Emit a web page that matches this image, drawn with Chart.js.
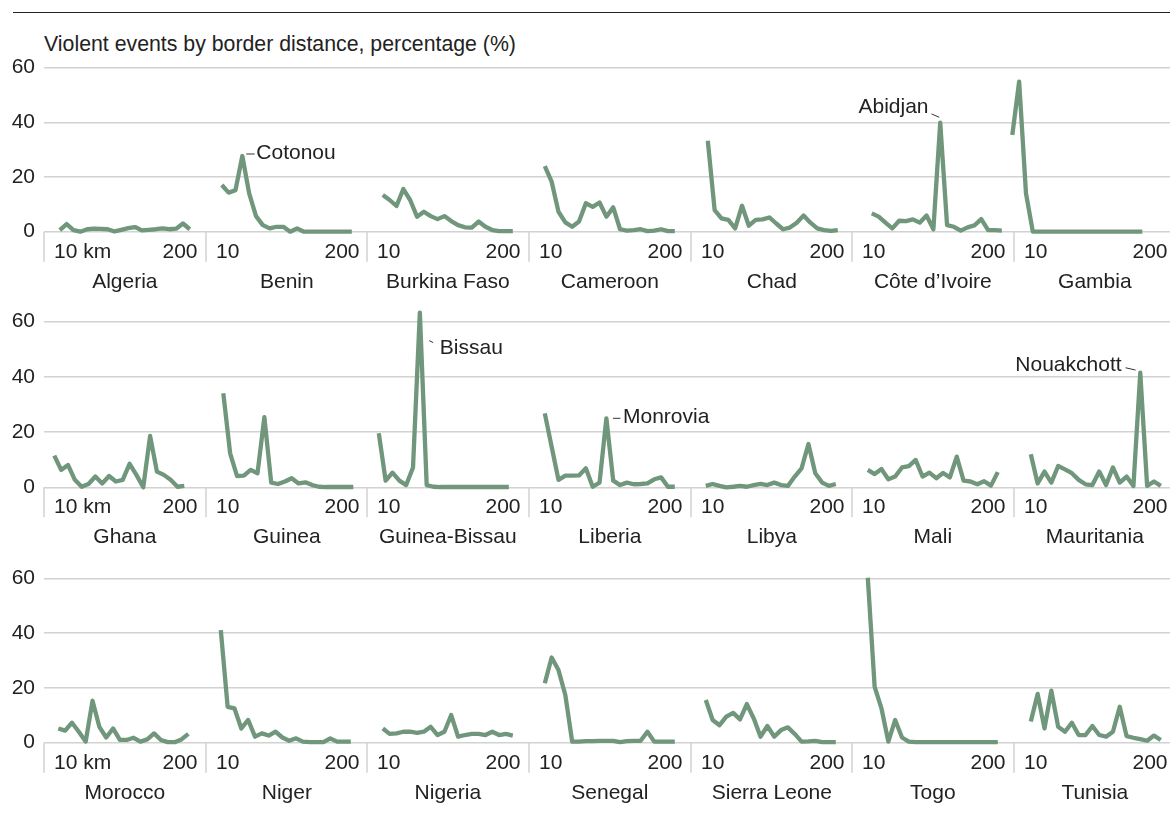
<!DOCTYPE html>
<html>
<head>
<meta charset="utf-8">
<script src="https://cdn.jsdelivr.net/npm/chart.js@4.4.1/dist/chart.umd.min.js"></script>
<style>
html,body{margin:0;padding:0;background:#fff;}
body{width:1170px;height:821px;position:relative;overflow:hidden;font-family:"Liberation Sans",Arial,Helvetica,sans-serif;color:#222;}
#rule{position:absolute;left:13px;top:12px;width:1157px;height:1px;background:#222;}
#title{position:absolute;left:44px;top:34px;font-size:21.3px;line-height:21px;white-space:nowrap;}
canvas{position:absolute;}
</style>
</head>
<body>
<div id="rule"></div>
<div id="title">Violent events by border distance, percentage (%)</div>
<script>
// ---------- DATA ----------
const countries = ["Algeria","Benin","Burkina Faso","Cameroon","Chad","Côte d’Ivoire","Gambia",
  "Ghana","Guinea","Guinea-Bissau","Liberia","Libya","Mali","Mauritania",
  "Morocco","Niger","Nigeria","Senegal","Sierra Leone","Togo","Tunisia"];
const distanceKm = [10,20,30,40,50,60,70,80,90,100,110,120,130,140,150,160,170,180,190,200];

const algeria      = [0.6,2.8,0.6,0.0,0.9,1.1,1.0,0.9,0.1,0.7,1.3,1.7,0.5,0.7,0.9,1.2,0.9,1.1,3.0,0.9];
const benin        = [17.1,14.3,15.2,27.7,14.0,5.7,2.4,1.2,1.8,1.8,0.0,1.2,0.0,0.0,0.0,0.0,0.0,0.0,0.0,0.0];
const burkinaFaso  = [13.4,11.6,9.4,15.6,11.6,5.5,7.3,5.7,4.6,5.7,3.9,2.4,1.6,1.5,3.7,1.8,0.6,0.2,0.2,0.2];
const cameroon     = [24.0,18.3,7.3,3.4,1.8,3.7,10.4,9.1,10.7,5.5,8.9,0.9,0.4,0.6,0.9,0.2,0.4,0.9,0.2,0.2];
const chad         = [33.3,7.9,4.9,4.3,1.2,9.5,2.2,4.3,4.5,5.2,3.0,0.9,1.5,3.3,5.9,3.3,1.2,0.6,0.3,0.6];
const coteDIvoire  = [6.7,5.5,3.3,1.2,4.0,3.9,4.5,3.3,5.9,0.9,39.9,2.4,1.8,0.4,1.6,2.3,4.6,0.6,0.6,0.4];
const gambia       = [35.4,54.9,14.0,0.0,0.0,0.0,0.0,0.0,0.0,0.0,0.0,0.0,0.0,0.0,0.0,0.0,0.0,0.0,0.0,0.0];
const ghana        = [11.5,6.3,8.1,2.7,0.2,1.2,3.9,1.4,4.1,2.1,2.7,8.5,4.5,0.0,18.6,5.7,4.5,2.7,0.2,0.5];
const guinea       = [34.1,12.3,4.1,4.2,6.3,5.1,25.4,1.7,1.2,2.1,3.3,1.4,1.8,0.8,0.2,0.1,0.1,0.1,0.1,0.1];
const guineaBissau = [19.6,2.4,5.3,2.4,0.8,7.2,63.3,0.8,0.2,0.1,0.1,0.1,0.1,0.1,0.1,0.1,0.1,0.1,0.1,0.1];
const liberia      = [26.8,14.7,2.7,4.2,4.2,4.3,6.9,0.2,1.7,25.0,2.4,0.8,1.7,1.1,1.2,1.4,2.9,3.6,0.2,0.2];
const libya        = [0.5,1.2,0.5,0.0,0.2,0.5,0.2,0.8,1.2,0.8,1.7,0.8,0.5,3.9,6.9,15.7,5.1,1.7,0.5,1.2];
const mali         = [6.3,4.8,6.6,2.9,3.9,7.2,7.7,9.9,3.9,5.3,3.3,5.2,3.6,11.1,2.4,2.1,1.1,2.2,0.6,5.5];
const mauritania   = [12.0,1.4,5.7,1.7,7.7,6.5,5.1,2.7,1.1,0.8,5.7,0.8,7.2,1.7,3.9,0.5,41.5,0.5,2.1,0.5];
const morocco      = [5.2,4.4,7.3,4.0,0.4,15.3,5.8,1.9,5.2,1.0,1.0,1.8,0.4,1.2,3.4,1.0,0.2,0.2,1.2,3.2];
const niger        = [41.1,13.1,12.5,5.2,8.3,2.2,3.4,2.6,4.0,1.9,0.7,1.6,0.4,0.2,0.2,0.2,1.6,0.4,0.4,0.4];
const nigeria      = [5.2,3.2,3.4,4.0,4.0,3.6,4.0,5.8,2.8,4.0,10.1,2.2,2.8,3.2,3.2,2.8,4.0,2.8,3.2,2.6];
const senegal      = [21.7,31.1,26.5,17.4,0.4,0.4,0.6,0.6,0.7,0.7,0.7,0.2,0.6,0.7,0.7,4.0,0.4,0.4,0.4,0.4];
const sierraLeone  = [15.6,8.3,6.4,9.5,10.9,8.5,14.1,8.9,2.2,6.1,2.2,4.6,5.6,3.2,0.4,0.5,0.7,0.2,0.2,0.2];
const togo         = [60.2,20.4,12.5,0.4,8.3,1.9,0.4,0.2,0.2,0.2,0.2,0.2,0.2,0.2,0.2,0.2,0.2,0.2,0.2,0.2];
const tunisia      = [7.7,17.8,5.2,19.0,5.8,4.0,7.3,2.8,2.8,6.1,2.8,2.2,4.0,13.1,2.4,1.8,1.3,0.7,2.6,1.0];

const series = [algeria,benin,burkinaFaso,cameroon,chad,coteDIvoire,gambia,
  ghana,guinea,guineaBissau,liberia,libya,mali,mauritania,
  morocco,niger,nigeria,senegal,sierraLeone,togo,tunisia];

const yTickValues = [0,20,40,60];
const xTickLabelsFirstColumn = ["10 km","200"];
const xTickLabels = ["10","200"];
const cityCountries = ["Benin","Côte d’Ivoire","Guinea-Bissau","Liberia","Mauritania"];
const cityNames = ["Cotonou","Abidjan","Bissau","Monrovia","Nouakchott"];
const cityDistanceKm = [40,110,70,100,170];

// ---------- STYLE / LAYOUT ----------
const FONT = '"Liberation Sans", Arial, Helvetica, sans-serif';
const TEXT = '#222222';
const GRID = '#d2d2d2';
const LINE = 'rgb(112,150,123)';
const COLS = 7;
const PANEL_W = 161.67;
const panelLefts = [44,206,367,529,691,852,1014];
const RIGHT_EDGE = 1170;
const rowPlotTop = [67.7, 321.7, 578.3];
const rowPlotBottom = [231.7, 487.3, 742.7];
const FIRST_PT = 15.8, LAST_PT = 145.8; // px from panel left (base)
const panelShiftPx = {"Chad":1,"Côte d’Ivoire":4,"Gambia":-17.5,"Ghana":-5.5,"Guinea":1.5,
  "Guinea-Bissau":-4,"Libya":-1,"Mauritania":1,"Morocco":-1.5,"Niger":-1,"Sierra Leone":-1,"Tunisia":1};
const cityStyle = {
  "Cotonou":   {align:'left',  tx:14,    ty:3.5,  leader:[4,-2,12.3,-2]},
  "Abidjan":   {align:'right', tx:-11.7, ty:-10,  leader:[-8.7,-8.7,-1,-5.4]},
  "Bissau":    {align:'left',  tx:20,    ty:41.3, leader:[9.3,28,13.3,30]},
  "Monrovia":  {align:'left',  tx:16.6,  ty:4.5,  leader:[6.6,0,14,0]},
  "Nouakchott":{align:'right', tx:-18.7, ty:-1.7, leader:[-14.7,-5,-4.7,-2.7]}
};

Chart.defaults.font.family = FONT;

const panelDeco = {
  id: 'panelDeco',
  afterDraw(chart, args, o) {
    const ctx = chart.ctx;
    const y0 = chart.scales.y.getPixelForValue(0);
    const L = o.panelLeft;
    ctx.save();
    ctx.strokeStyle = GRID; ctx.lineWidth = 1.5;
    ctx.beginPath(); ctx.moveTo(L, y0); ctx.lineTo(L, y0 + 30); ctx.stroke();
    ctx.fillStyle = TEXT;
    ctx.font = '21px ' + FONT;
    ctx.textBaseline = 'alphabetic';
    ctx.textAlign = 'left';  ctx.fillText(o.ticks[0], L + 10, y0 + 26);
    ctx.textAlign = 'right'; ctx.fillText(o.ticks[1], L + 153.5, y0 + 26);
    ctx.textAlign = 'center'; ctx.fillText(o.name, L + PANEL_W / 2, y0 + 56);
    if (o.city) {
      const idx = distanceKm.indexOf(o.cityKm);
      const pt = chart.getDatasetMeta(0).data[idx];
      const s = cityStyle[o.city];
      ctx.strokeStyle = '#333'; ctx.lineWidth = 1;
      ctx.beginPath();
      ctx.moveTo(pt.x + s.leader[0], pt.y + s.leader[1]);
      ctx.lineTo(pt.x + s.leader[2], pt.y + s.leader[3]);
      ctx.stroke();
      ctx.textAlign = s.align;
      ctx.fillText(o.city, pt.x + s.tx, pt.y + s.ty);
    }
    ctx.restore();
  }
};

const pxPerKm = (LAST_PT - FIRST_PT) / (distanceKm[distanceKm.length - 1] - distanceKm[0]);

countries.forEach((name, k) => {
  const r = Math.floor(k / COLS), c = k % COLS;
  const L = panelLefts[c];
  const canvasLeft = c === 0 ? 0 : L - 24;
  const plotRight = c < COLS - 1 ? panelLefts[c + 1] : RIGHT_EDGE;
  const canvasRight = c < COLS - 1 ? plotRight + 30 : RIGHT_EDGE;
  const padLeft = c === 0 ? 0 : 24;
  const padRight = canvasRight - plotRight;
  const top = Math.floor(rowPlotTop[r]) - 28;
  const padTop = rowPlotTop[r] - top;
  const plotH = rowPlotBottom[r] - rowPlotTop[r];
  const padBottom = 66;
  const height = Math.ceil(padTop + plotH + padBottom);
  const cv = document.createElement('canvas');
  cv.width = canvasRight - canvasLeft; cv.height = height;
  cv.style.left = canvasLeft + 'px'; cv.style.top = top + 'px';
  document.body.appendChild(cv);

  const shift = panelShiftPx[name] || 0;
  const firstPx = L + FIRST_PT + shift;            // absolute px of first distance
  const kmAt = X => distanceKm[0] + (X - firstPx) / pxPerKm;
  const xmin = kmAt(L), xmax = kmAt(plotRight);
  const ci = cityCountries.indexOf(name);

  new Chart(cv, {
    type: 'line',
    data: { datasets: [{
      data: distanceKm.map((d, i) => ({x: d, y: series[k][i]})),
      borderColor: LINE, borderWidth: 4.3, pointRadius: 0, tension: 0,
      borderJoinStyle: 'round', borderCapStyle: 'butt', fill: false, clip: false
    }]},
    options: {
      responsive: false, animation: false, events: [], devicePixelRatio: 1,
      layout: { padding: { top: padTop, bottom: height - padTop - plotH, left: padLeft, right: padRight } },
      plugins: { legend: { display: false }, tooltip: { enabled: false },
        panelDeco: { panelLeft: L - canvasLeft, name: name,
          ticks: c === 0 ? xTickLabelsFirstColumn : xTickLabels,
          city: ci >= 0 ? cityNames[ci] : null,
          cityKm: ci >= 0 ? cityDistanceKm[ci] : null } },
      scales: {
        x: { type: 'linear', display: false, min: xmin, max: xmax },
        y: {
          min: 0, max: 60,
          afterBuildTicks: s => { s.ticks = yTickValues.map(v => ({value: v})); },
          afterFit: s => { s.width = c === 0 ? 44 : 0; },
          ticks: { display: c === 0, padding: 9, color: TEXT, font: { size: 21, family: FONT } },
          grid: { color: GRID, lineWidth: 1.5, drawTicks: false },
          border: { display: false }
        }
      }
    },
    plugins: [panelDeco]
  });
});
</script>
</body>
</html>
